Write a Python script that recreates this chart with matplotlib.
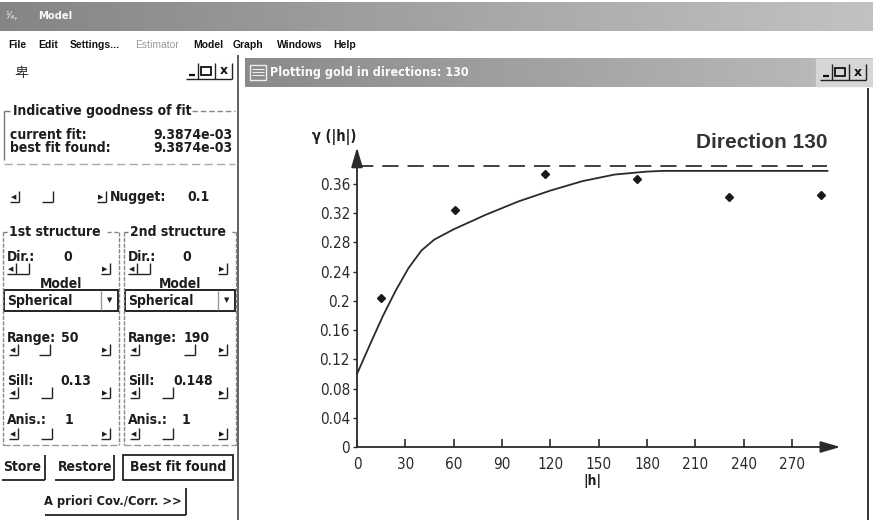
import matplotlib
matplotlib.use("Agg")
import matplotlib.pyplot as plt
from matplotlib import font_manager as fm
from matplotlib.font_manager import FontProperties
from matplotlib.patches import Rectangle
import numpy as np

# ---------------- data ----------------
lag_h = [15, 61, 117, 174, 231, 288]
gamma_exp = [0.204, 0.324, 0.374, 0.367, 0.342, 0.345]

model_h = [0, 8, 16, 24, 32, 40, 48, 60, 80, 100, 120, 140, 160, 180, 190, 292]
model_gamma = [0.100, 0.140, 0.179, 0.214, 0.245, 0.269, 0.284, 0.298, 0.318,
               0.336, 0.351, 0.364, 0.373, 0.377, 0.378, 0.378]

variance_h = [0, 292]
variance_gamma = [0.384, 0.384]

x_ticks = [0, 30, 60, 90, 120, 150, 180, 210, 240, 270]
y_ticks = [0, 0.04, 0.08, 0.12, 0.16, 0.2, 0.24, 0.28, 0.32, 0.36]
y_tick_labels = ["0", "0.04", "0.08", "0.12", "0.16", "0.2", "0.24", "0.28", "0.32", "0.36"]

direction_label = "Direction 130"
window_title = "Plotting gold in directions: 130"
menu_items = ["File", "Edit", "Settings...", "Estimator", "Model", "Graph", "Windows", "Help"]
current_fit = "9.3874e-03"
best_fit = "9.3874e-03"
nugget = "0.1"
struct1 = {"dir": "0", "model": "Spherical", "range": "50", "sill": "0.13", "anis": "1"}
struct2 = {"dir": "0", "model": "Spherical", "range": "190", "sill": "0.148", "anis": "1"}

# ---------------- fonts ----------------
REG = "Liberation Sans"
plt.rcParams["font.family"] = [REG, "DejaVu Sans"]

cond_bold = cond_reg = None
for f in fm.fontManager.ttflist:
    fn = f.fname.lower()
    if "narrow" in fn and "liberation" in fn:
        if "bold" in fn and "italic" not in fn:
            cond_bold = f.fname
        elif "regular" in fn:
            cond_reg = f.fname
if cond_bold is None:
    for f in fm.fontManager.ttflist:
        fn = f.fname.lower()
        if "dejavusanscondensed-bold.ttf" in fn:
            cond_bold = f.fname
        if "dejavusanscondensed.ttf" in fn:
            cond_reg = f.fname


def FP(size, bold=True):
    path = cond_bold if bold else cond_reg
    if path:
        return FontProperties(fname=path, size=size)
    return FontProperties(family=[REG, "DejaVu Sans"], size=size,
                          weight="bold" if bold else "normal")


HAS_COND = cond_bold is not None

W, H = 873, 520
fig = plt.figure(figsize=(W / 100, H / 100), dpi=100)
fig.patch.set_facecolor("white")

bg = fig.add_axes([0, 0, 1, 1], zorder=0)
bg.axis("off")

INK = "#1e1e1e"


def T(x, y, s, size=9.5, bold=True, ha="left", color=INK, fp=None, **kw):
    bg.text(x, y, s, ha=ha, va="center", color=color,
            fontproperties=fp if fp is not None else FP(size, bold), **kw)


def L(x0, y0, x1, y1, color="#333333", lw=1.0, ls="-"):
    bg.plot([x0, x1], [y0, y1], color=color, lw=lw, ls=ls, solid_capstyle="butt")


def grad_bar(x0, x1, y0, y1, c0, c1):
    g = np.linspace(0, 1, 256)[None, :, None]
    a = np.array(matplotlib.colors.to_rgb(c0))[None, None, :]
    b = np.array(matplotlib.colors.to_rgb(c1))[None, None, :]
    img = a * (1 - g) + b * g
    bg.imshow(img, extent=(x0, x1, y1, y0), aspect="auto", interpolation="bilinear", zorder=0)


def sbtn(x, y, glyph=None, w=10):
    L(x, y + 5, x + w, y + 5, color="#222222", lw=1.0)
    L(x + w, y - 6, x + w, y + 5, color="#222222", lw=1.0)
    if glyph:
        bg.text(x + w / 2 - 1, y, glyph, fontsize=5, ha="center", va="center",
                color=INK, family="DejaVu Sans")


def winbtns(x0, y0):
    L(x0, y0 + 16, x0 + 46, y0 + 16, color="#222222")
    for xx in (x0 + 12, x0 + 29, x0 + 46):
        L(xx, y0, xx, y0 + 16, color="#222222")
    L(x0 + 3, y0 + 12, x0 + 9, y0 + 12, color="#111111", lw=1.6)
    bg.add_patch(Rectangle((x0 + 15, y0 + 4), 10, 8, fill=False, ec="#111111", lw=1.3))
    bg.text(x0 + 37.5, y0 + 8, "x", fontsize=9, fontweight="bold", ha="center",
            va="center", color="#111111", family="DejaVu Sans")


# ---- main title bar ----
grad_bar(0, W, 2, 31, "#858585", "#c2c2c2")
bg.text(5, 16, "¹⁄₄,", fontsize=7, color="#f4f4f4", family="DejaVu Sans", va="center")
T(38, 16, "Model", size=8, color="#fafafa")

# ---- menu ----
menu_x = [8, 38, 70, 135, 193, 233, 277, 333]
for name, mx in zip(menu_items, menu_x):
    est = name == "Estimator"
    bg.text(mx, 45, name, fontsize=7.5, fontweight="normal" if est else "bold",
            color="#9a9a9a" if est else "#111111", va="center", family=[REG, "DejaVu Sans"])

# ---- left panel ----
L(238, 55, 238, H, color="#444444", lw=1.2)
bg.text(14, 73, "卑", fontsize=10, color="#333333", va="center",
        family=["Noto Sans CJK SC", "DejaVu Sans"])
winbtns(186, 63)

fs = 10
T(13, 111, "Indicative goodness of fit", size=fs)
L(4, 111, 10, 111, color="#777777")
L(4, 111, 4, 160, color="#777777")
L(192, 111, 235, 111, color="#888888", ls=(0, (4, 2)))
L(4, 164, 235, 164, color="#aaaaaa", ls=(0, (6, 3)))
T(10, 135, "current fit:", size=fs)
T(233, 135, current_fit, size=fs, ha="right")
T(10, 148, "best fit found:", size=fs)
T(233, 148, best_fit, size=fs, ha="right")

sbtn(10, 197, "◀", w=9)
sbtn(42, 197, None, w=11)
sbtn(97, 197, "▶", w=9)
T(110, 197, "Nugget:", size=fs)
T(187, 197, nugget, size=fs)

for (bx0, bx1, label, st, dv, rv, sv, av) in (
        (3, 119, "1st structure", struct1, 56, 54, 53, 58),
        (124, 236, "2nd structure", struct2, 54, 56, 45, 54)):
    L(bx0, 232, bx0 + 4, 232, color="#777777")
    L(bx0, 232, bx0, 445, color="#888888", ls=(0, (3, 1)))
    L(bx1, 232, bx1, 445, color="#888888", ls=(0, (3, 1)))
    L(bx0, 445, bx1, 445, color="#999999", ls=(0, (5, 2)))
    T(bx0 + 6, 232, label, size=fs)
    L(bx0 + 104 if bx0 < 100 else bx0 + 108, 232, bx1, 232, color="#888888", ls=(0, (3, 2)))
    x = bx0 + 4
    T(x, 257, "Dir.:", size=fs)
    T(x + dv, 257, st["dir"], size=fs)
    sbtn(x, 269, "◀", w=9)
    L(x + 22, 263, x + 22, 274, color="#222222")
    L(x + 9, 274, x + 22, 274, color="#222222")
    sbtn(bx1 - 18, 269, "▶", w=9)
    T((bx0 + bx1) / 2, 284, "Model", size=fs, ha="center")
    bg.add_patch(Rectangle((bx0 + 1, 290), bx1 - bx0 - 2, 21, fill=False, ec="#222222", lw=1.4))
    L(bx1 - 18, 291, bx1 - 18, 310, color="#999999")
    T(bx0 + 4, 300.5, st["model"], size=fs)
    bg.text(bx1 - 9, 300, "▼", fontsize=5, ha="center", va="center", color=INK, family="DejaVu Sans")
    T(x, 338, "Range:", size=fs)
    T(x + rv, 338, st["range"], size=fs)
    sbtn(x + 2, 350, "◀", w=9)
    sbtn(x + 32 if bx0 < 100 else x + 56, 350, None, w=11)
    sbtn(bx1 - 18, 350, "▶", w=9)
    T(x, 381, "Sill:", size=fs)
    T(x + sv, 381, st["sill"], size=fs)
    sbtn(x + 2, 393, "◀", w=9)
    sbtn(x + 34, 393, None, w=11)
    sbtn(bx1 - 18, 393, "▶", w=9)
    T(x, 420, "Anis.:", size=fs)
    T(x + av, 420, st["anis"], size=fs)
    sbtn(x + 2, 434, "◀", w=9)
    sbtn(x + 34, 434, None, w=11)
    sbtn(bx1 - 18, 434, "▶", w=9)

T(3, 467, "Store", size=fs)
L(45, 455, 45, 480, color="#222222", lw=1.3)
L(2, 480, 45, 480, color="#222222", lw=1.3)
T(58, 467, "Restore", size=fs)
L(114, 455, 114, 480, color="#222222", lw=1.3)
L(55, 480, 114, 480, color="#222222", lw=1.3)
bg.add_patch(Rectangle((123, 455), 110, 25, fill=False, ec="#222222", lw=1.3))
T(178, 467, "Best fit found", size=fs, ha="center")
T(113, 502, "A priori Cov./Corr. >>", size=9.2, ha="center")
L(186, 488, 186, 515, color="#222222", lw=1.3)
L(45, 515, 186, 515, color="#222222", lw=1.3)

# ---- right window ----
grad_bar(245, W, 58, 87, "#8a8a8a", "#bdbdbd")
bg.add_patch(Rectangle((816, 59), 57, 27, color="#d6d6d6", zorder=1))
bg.add_patch(Rectangle((250, 65), 16, 15, fill=False, ec="#eeeeee", lw=1))
for yy in (69, 72, 75):
    L(252, yy, 264, yy, color="#eeeeee", lw=0.8)
T(270, 72.5, window_title, size=9.0 if HAS_COND else 9.8, color="#fbfbfb")
winbtns(820, 64)
L(868, 88, 868, H, color="#333333", lw=1.4)

bg.set_xlim(0, W)
bg.set_ylim(H, 0)

# ---- chart ----
x0px, x1px = 357, 840.3
y0px, y1px = 447, 147.5
ax = fig.add_axes([x0px / W, (H - y0px) / H, (x1px - x0px) / W, (y0px - y1px) / H], zorder=2)
ax.patch.set_alpha(0)
ax.set_xlim(0, 300)
ax.set_ylim(0, 0.41)
for s in ax.spines.values():
    s.set_visible(False)

axc = "#2a2a2a"
for tip in ((300, 0), (0, 0.41)):
    ax.annotate("", xy=tip, xytext=(0, 0), xycoords="data",
                arrowprops=dict(arrowstyle="-|>,head_length=1.2,head_width=0.35", color=axc, lw=1.3,
                                shrinkA=0, shrinkB=0), annotation_clip=False)

ax.plot(variance_h, variance_gamma, color="#333333", lw=1.3, dashes=(9, 5), clip_on=False)
ax.plot(model_h, model_gamma, color="#2a2a2a", lw=1.3, clip_on=False)
ax.plot(lag_h, gamma_exp, ls="none", marker="D", markersize=4.2, color="#1a1a1a", clip_on=False)

ax.set_xticks(x_ticks)
ax.set_xticklabels([str(v) for v in x_ticks])
ax.set_yticks(y_ticks)
ax.set_yticklabels(y_tick_labels)
ax.tick_params(axis="x", direction="in", length=6, width=1.2, color=axc, pad=7, labelcolor="#2a2a2a")
ax.tick_params(axis="y", direction="out", length=3, width=1.0, color=axc, pad=2, labelcolor="#2a2a2a")
tfp = FP(11, bold=False)
for lab in ax.get_xticklabels() + ax.get_yticklabels():
    lab.set_fontproperties(tfp)

T(312, 137, "γ (|h|)", size=10.5)
bg.text(828, 142, direction_label, fontsize=15, fontweight="bold", ha="right", va="center",
        color="#333333", family=[REG, "DejaVu Sans"])
T(583, 481, "|h|", size=10)

fig.savefig("out.png", dpi=100, facecolor="white")
